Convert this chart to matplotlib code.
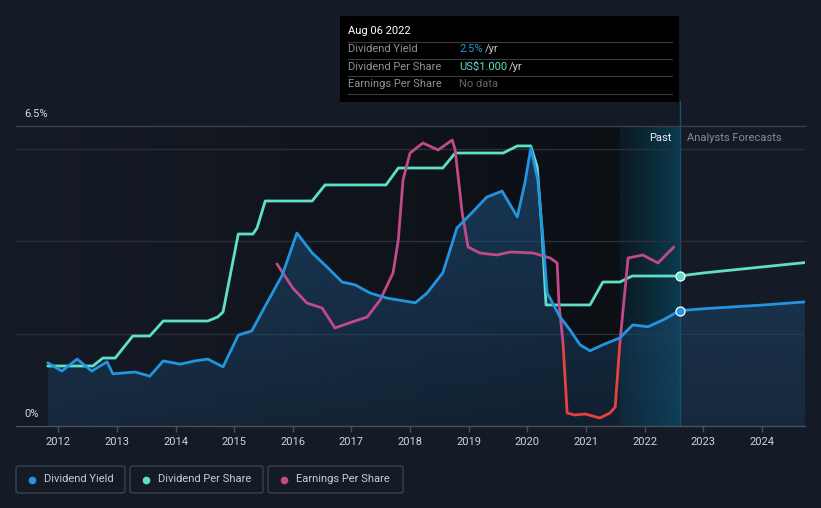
import numpy as np
import matplotlib
matplotlib.use("Agg")
import matplotlib.pyplot as plt
from matplotlib.patches import Rectangle, FancyBboxPatch
from matplotlib.lines import Line2D
from matplotlib.colors import LinearSegmentedColormap, to_rgb

plt.rcParams['font.family'] = ['Roboto', 'DejaVu Sans']

# ---------------- data ----------------
yield_years = [2011.82, 2012.06, 2012.32, 2012.57, 2012.83, 2012.93, 2013.31, 2013.56, 2013.79,
               2014.08, 2014.33, 2014.55, 2014.81, 2015.07, 2015.30, 2015.53, 2015.82, 2016.07,
               2016.33, 2016.58, 2016.84, 2017.06, 2017.32, 2017.61, 2018.09, 2018.29, 2018.56,
               2018.80, 2019.07, 2019.31, 2019.57, 2019.71, 2019.83, 2019.96, 2020.06, 2020.18,
               2020.27, 2020.34, 2020.56, 2020.73, 2020.90, 2021.07, 2021.29, 2021.58, 2021.80,
               2022.06, 2022.32, 2022.60]
yield_pct = [1.37, 1.19, 1.45, 1.19, 1.39, 1.13, 1.17, 1.08, 1.41,
             1.34, 1.41, 1.45, 1.28, 1.97, 2.06, 2.60, 3.27, 4.18,
             3.75, 3.45, 3.12, 3.06, 2.88, 2.77, 2.67, 2.88, 3.32,
             4.29, 4.64, 4.96, 5.09, 4.79, 4.53, 5.27, 6.02, 5.33,
             4.03, 2.88, 2.36, 2.08, 1.76, 1.63, 1.76, 1.91, 2.19,
             2.15, 2.30, 2.50]

dps_years = [2011.82, 2012.59, 2012.76, 2012.97, 2013.27, 2013.56, 2013.79, 2014.55, 2014.72,
             2014.81, 2014.96, 2015.07, 2015.32, 2015.39, 2015.53, 2016.33, 2016.55, 2017.59,
             2017.80, 2018.56, 2018.77, 2019.59, 2019.83, 2020.06, 2020.17, 2020.25, 2020.32,
             2021.07, 2021.29, 2021.58, 2021.79, 2022.60]
dps_usd = [0.40, 0.40, 0.453, 0.453, 0.60, 0.60, 0.70, 0.70, 0.727,
           0.76, 1.06, 1.28, 1.28, 1.32, 1.50, 1.50, 1.607, 1.607,
           1.72, 1.72, 1.82, 1.82, 1.867, 1.867, 1.727, 1.307, 0.807,
           0.807, 0.96, 0.96, 1.00, 1.00]

eps_years = [2015.73, 2016.00, 2016.24, 2016.50, 2016.72, 2017.01, 2017.27, 2017.49, 2017.71,
             2017.80, 2017.88, 2018.00, 2018.22, 2018.48, 2018.72, 2018.77, 2018.89, 2018.99,
             2019.19, 2019.48, 2019.71, 2020.10, 2020.39, 2020.51, 2020.54, 2020.61, 2020.68,
             2020.81, 2020.99, 2021.24, 2021.41, 2021.50, 2021.58, 2021.72, 2021.97, 2022.23,
             2022.50]
eps_val = [0.79, 0.55, 0.40, 0.35, 0.15, 0.21, 0.26, 0.43, 0.70,
           1.03, 1.63, 1.90, 2.00, 1.93, 2.03, 1.93, 1.30, 0.96,
           0.90, 0.88, 0.91, 0.90, 0.85, 0.80, 0.40, 0.00, -0.70,
           -0.72, -0.71, -0.75, -0.70, -0.64, 0.00, 0.85, 0.88, 0.80,
           0.96]

forecast_years = [2022.60, 2023.00, 2023.50, 2024.00, 2024.75]
forecast_yield = [2.50, 2.54, 2.58, 2.62, 2.69]
forecast_dps = [1.00, 1.02, 1.04, 1.06, 1.09]

year_ticks = list(range(2012, 2025))
year_labels = [str(y) for y in year_ticks]

past_start = 2021.58
today = 2022.60
x_min, x_max = 2011.278, 2024.738
yield_max = 6.5
dps_lim = (0, 2.0)
eps_lim = (-0.83, 2.17)

# ---------------- style ----------------
BG = '#151b26'
BLUE = '#2394df'
TEAL = '#5ee0c8'
PINK = '#c2498a'
RED = '#e8413e'
GRID = '#2a2f39'
W, H = 821, 508


def fx(px):
    return px / W


def fy(py):
    return 1 - py / H


fig = plt.figure(figsize=(W / 100, H / 100), dpi=100, facecolor=BG)
ax = fig.add_axes([fx(16), fy(426), (805 - 16) / W, 300 / H])
ax.set_facecolor(BG)

# past gradient background
past_cmap = LinearSegmentedColormap.from_list('past', [BG, '#0c0f14'])
ax.imshow(np.linspace(0, 1, 256).reshape(1, -1), cmap=past_cmap, aspect='auto',
          extent=(x_min, past_start, 0, yield_max), zorder=0, interpolation='bilinear')
band_cmap = LinearSegmentedColormap.from_list('band', ['#0c1922', '#0a3a4d'])
ax.imshow(np.linspace(0, 1, 256).reshape(1, -1), cmap=band_cmap, aspect='auto',
          extent=(past_start, today, 0, yield_max), zorder=0, interpolation='bilinear')

# grid
for g in [2, 4, 6]:
    ax.axhline(g, color=GRID, lw=1, zorder=1)
ax.axhline(yield_max, color='#3a3f49', lw=1, zorder=1, clip_on=False)

# area fill under yield
all_x = np.array(yield_years + forecast_years[1:])
all_y = np.array(yield_pct + forecast_yield[1:])
poly = ax.fill_between(all_x, all_y, 0, facecolor='none', edgecolor='none', zorder=1.5)
rgb = to_rgb('#1d4c76')
grad = np.zeros((256, 1, 4))
grad[:, 0, 0:3] = rgb
grad[:, 0, 3] = np.linspace(0.72, 0.28, 256)
im = ax.imshow(grad, aspect='auto', extent=(all_x[0], all_x[-1], 0, yield_max),
               origin='upper', zorder=1.5, interpolation='bilinear')
im.set_clip_path(poly.get_paths()[0], transform=ax.transData)

# today line
ax.plot([today, today], [0, yield_max * (325 / 300)], color='#1b5168', lw=1,
        zorder=2, clip_on=False)

# secondary axes
ax_d = ax.twinx()
ax_d.set_ylim(*dps_lim)
ax_d.axis('off')
ax_e = ax.twinx()
ax_e.set_ylim(*eps_lim)
ax_e.axis('off')

lw = 2.0
# EPS
ln_pos, = ax_e.plot(eps_years, eps_val, color=PINK, lw=lw, solid_joinstyle='round',
                    solid_capstyle='round')
ln_pos.set_clip_path(Rectangle((2000, 0), 40, 10, transform=ax_e.transData))
ln_neg, = ax_e.plot(eps_years, eps_val, color=RED, lw=lw, solid_joinstyle='round',
                    solid_capstyle='round')
ln_neg.set_clip_path(Rectangle((2000, -10), 40, 10, transform=ax_e.transData))

# DPS
ax_d.plot(dps_years, dps_usd, color=TEAL, lw=lw, solid_joinstyle='round', solid_capstyle='round')
ax_d.plot(forecast_years, forecast_dps, color=TEAL, lw=lw, solid_capstyle='round')
ax_d.plot([today], [forecast_dps[0]], 'o', ms=6.5, mfc=TEAL, mec='white', mew=0.9)

# Yield (draw on top axis using main transform)
ax_e.plot(yield_years, yield_pct, color=BLUE, lw=lw, solid_joinstyle='round',
          solid_capstyle='round', transform=ax.transData)
ax_e.plot(forecast_years, forecast_yield, color=BLUE, lw=lw, solid_capstyle='round',
          transform=ax.transData)
ax_e.plot([today], [forecast_yield[0]], 'o', ms=6.5, mfc=BLUE, mec='white', mew=0.9,
          transform=ax.transData)

# axes formatting
ax.set_xlim(x_min, x_max)
ax.set_ylim(0, yield_max)
ax.set_yticks([])
ax.set_xticks(year_ticks)
ax.set_xticklabels(year_labels)
ax.tick_params(axis='x', direction='out', length=4, width=1, color='#4a4f5a',
               labelcolor='#d0d3d8', labelsize=8, pad=4)
for s in ['top', 'right', 'left']:
    ax.spines[s].set_visible(False)
ax.spines['bottom'].set_color('#4a4f5a')
ax.spines['bottom'].set_linewidth(1)

# y labels
fig.text(fx(24), fy(114), '6.5%', color='#d8dbe0', fontsize=8, va='center', ha='left')
fig.text(fx(24), fy(414), '0%', color='#d8dbe0', fontsize=8, va='center', ha='left')

# Past / forecast labels
fig.text(fx(671), fy(138), 'Past', color='#eef0f3', fontsize=8, va='center', ha='right')
fig.text(fx(687), fy(138), 'Analysts Forecasts', color='#868b95', fontsize=8,
         va='center', ha='left')

# tooltip
fig.add_artist(Rectangle((fx(340), fy(101.5)), (679 - 340) / W, 85.5 / H,
                         transform=fig.transFigure, facecolor='black', edgecolor='none',
                         zorder=10))
for sy in [41.5, 58.5, 76, 93.5]:
    fig.add_artist(Line2D([fx(348), fx(672)], [fy(sy), fy(sy)], transform=fig.transFigure,
                          color='#3b3b3b', lw=0.8, zorder=11))
fig.text(fx(348), fy(31), 'Aug 06 2022', color='white', fontsize=8, va='center', zorder=12)
rows = [('Dividend Yield', 49.5), ('Dividend Per Share', 66.5), ('Earnings Per Share', 84)]
for lab, yy in rows:
    fig.text(fx(348), fy(yy), lab, color='#8e9299', fontsize=8, va='center', zorder=12)
fig.text(fx(459), fy(49.5), '2.5%', color=BLUE, fontsize=8, va='center', zorder=12)
fig.text(fx(485), fy(49.5), '/yr', color='#c8ccd2', fontsize=8, va='center', zorder=12)
fig.text(fx(459), fy(66.5), 'US$1.000', color=TEAL, fontsize=8, va='center', zorder=12)
fig.text(fx(509), fy(66.5), '/yr', color='#c8ccd2', fontsize=8, va='center', zorder=12)
fig.text(fx(459), fy(84), 'No data', color='#5f636a', fontsize=8, va='center', zorder=12)

# legend
legend_items = [('Dividend Yield', BLUE, 16, 125), ('Dividend Per Share', TEAL, 130, 263),
                ('Earnings Per Share', PINK, 268, 403)]
for name, col, x0, x1 in legend_items:
    fig.add_artist(FancyBboxPatch((fx(x0), fy(493)), (x1 - x0) / W, 27 / H,
                                  boxstyle='round,pad=0,rounding_size=0.004',
                                  transform=fig.transFigure, facecolor='none',
                                  edgecolor='#3d424c', lw=1))
    fig.add_artist(Line2D([fx(x0 + 16)], [fy(479.5)], marker='o', ms=5.5, color=col,
                          mec='none', transform=fig.transFigure))
    fig.text(fx(x0 + 28), fy(479.5), name, color='#c9ccd1', fontsize=8, va='center',
             ha='left')

fig.savefig('out.png', dpi=100, facecolor=BG)
